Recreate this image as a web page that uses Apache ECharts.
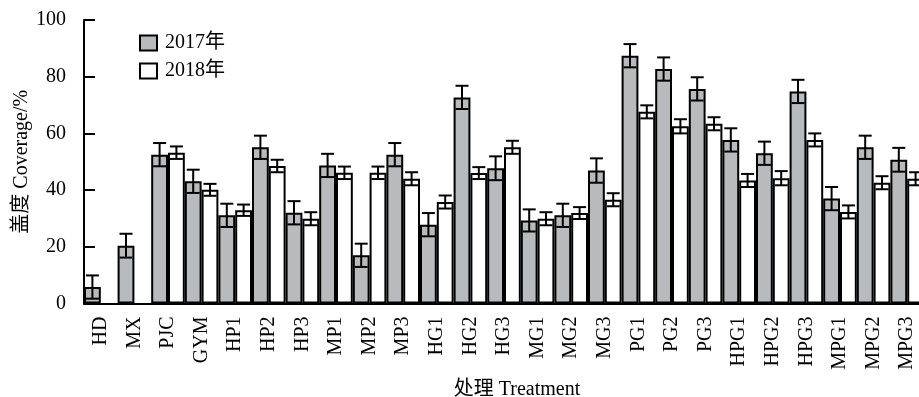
<!DOCTYPE html>
<html>
<head>
<meta charset="utf-8">
<script src="https://cdn.jsdelivr.net/npm/echarts@6/dist/echarts.min.js"></script>
<style>html,body{margin:0;padding:0;background:#fff;}#c{width:919px;height:397px;}</style>
</head>
<body>
<div id="c"></div>
<script>
const categories = ['HD','MX','PJC','GYM','HP1','HP2','HP3','MP1','MP2','MP3','HG1','HG2','HG3','MG1','MG2','MG3','PG1','PG2','PG3','HPG1','HPG2','HPG3','MPG1','MPG2','MPG3'];
const values2017 = [5.8,20.4,52.5,43.1,31.1,55.1,32.0,48.7,17.0,52.5,27.8,72.7,47.7,29.3,31.1,46.9,87.4,82.7,75.7,57.7,53.0,74.8,37.0,55.1,50.7];
const errors2017 = [4.1,4.2,4.1,4.1,4.1,4.1,4.1,4.1,4.1,4.1,4.1,4.1,4.2,3.9,4.1,4.3,4.1,4.1,4.1,4.1,4.1,4.1,4.1,4.1,4.2];
const values2018 = [null,null,53.2,40.1,32.9,48.5,29.9,46.1,46.1,44.0,35.8,46.0,55.1,29.9,31.9,36.6,67.6,62.5,63.4,43.4,44.2,57.7,32.3,42.6,44.0];
const errors2018 = [null,null,2.2,2.1,2.0,2.2,2.3,2.2,2.2,2.3,2.3,2.1,2.3,2.3,2.1,2.3,2.3,2.5,2.3,2.3,2.5,2.3,2.3,2.3,2.3];
const yTicks = [0,20,40,60,80,100];
const seriesNames = ['2017年','2018年'];

const FONT = "'Liberation Serif','Times New Roman','Noto Sans CJK SC',serif";
const GRAY = '#b9babb';

function errData(vals, errs){
  const out = [];
  vals.forEach((v,i)=>{ if(v!=null && errs[i]!=null) out.push([i,v,errs[i]]); });
  return out;
}
function errRender(side){
  return function(params, api){
    const bw = api.size([1,0])[0];
    const off = side * bw/4;
    const x = api.coord([api.value(0), api.value(1)])[0] + off;
    const hi = api.coord([api.value(0), api.value(1)+api.value(2)])[1];
    const lo = api.coord([api.value(0), api.value(1)-api.value(2)])[1];
    const cap = 6.5;
    const st = {stroke:'#000', lineWidth:2};
    return {type:'group', children:[
      {type:'line', shape:{x1:x,y1:hi,x2:x,y2:lo}, style:st},
      {type:'line', shape:{x1:x-cap,y1:hi,x2:x+cap,y2:hi}, style:st},
      {type:'line', shape:{x1:x-cap,y1:lo,x2:x+cap,y2:lo}, style:st}
    ]};
  };
}

const chart = echarts.init(document.getElementById('c'), null, {renderer:'canvas'});
chart.setOption({
  animation:false,
  backgroundColor:'#fff',
  textStyle:{fontFamily:FONT},
  legend:{
    data:seriesNames,
    orient:'vertical',
    left:139, top:33,
    padding:0,
    itemWidth:17, itemHeight:15, itemGap:8,
    icon:'rect',
    textStyle:{fontFamily:FONT, fontSize:20, color:'#000', padding:[0,0,0,3]}
  },
  grid:{left:84, top:20, width:840, height:283.5, containLabel:false, outerBoundsMode:'none'},
  xAxis:{
    type:'category',
    data:categories,
    name:'处理 Treatment',
    nameLocation:'middle',
    nameGap:76,
    nameMoveOverlap:false,
    nameTextStyle:{fontFamily:FONT, fontSize:20, color:'#000', padding:[0,0,0,26]},
    axisLine:{lineStyle:{color:'#000', width:2}},
    axisTick:{show:false},
    axisLabel:{rotate:90, fontFamily:FONT, fontSize:20, color:'#000', margin:13, interval:0}
  },
  yAxis:{
    type:'value',
    min:yTicks[0], max:yTicks[yTicks.length-1], interval:20,
    name:'盖度 Coverage/%',
    nameLocation:'middle',
    nameGap:52,
    nameMoveOverlap:false,
    nameTextStyle:{fontFamily:FONT, fontSize:20, color:'#000'},
    axisLine:{show:true, lineStyle:{color:'#000', width:2}},
    axisTick:{show:true, inside:true, length:11, lineStyle:{color:'#000', width:2}},
    axisLabel:{fontFamily:FONT, fontSize:20, color:'#000', margin:18},
    splitLine:{show:false}
  },
  series:[
    {name:seriesNames[0], type:'bar', data:values2017, barGap:'0%', barCategoryGap:'0%',
     itemStyle:{color:GRAY, borderColor:'#000', borderWidth:2}},
    {name:seriesNames[1], type:'bar', data:values2018, barGap:'0%', barCategoryGap:'0%',
     itemStyle:{color:'#fff', borderColor:'#000', borderWidth:2}},
    {type:'custom', renderItem:errRender(-1), data:errData(values2017,errors2017), encode:{x:0,y:1}, z:5, silent:true},
    {type:'custom', renderItem:errRender(1), data:errData(values2018,errors2018), encode:{x:0,y:1}, z:5, silent:true}
  ]
});
</script>
</body>
</html>
